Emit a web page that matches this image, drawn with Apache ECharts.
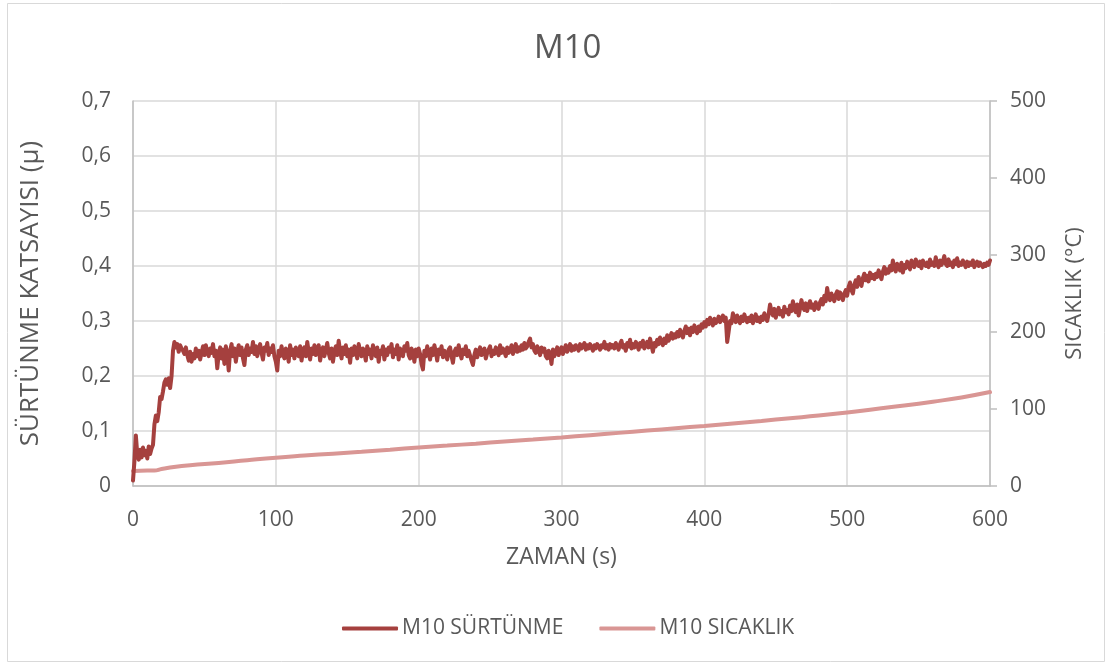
<!DOCTYPE html>
<html>
<head>
<meta charset="utf-8">
<script src="https://cdn.jsdelivr.net/npm/echarts@6/dist/echarts.min.js"></script>
<style>
  html, body { margin: 0; padding: 0; background: #fff; }
  #chart { width: 1113px; height: 666px; }
</style>
</head>
<body>
<div id="chart"></div>
<script>
// Friction coefficient, sampled every 1 s from 0 to 600 s (20 s per row)
const frictionStep = 1;
const frictionValues = [
  0.010, 0.045, 0.092, 0.058, 0.048, 0.066, 0.052, 0.070, 0.056, 0.064, 0.050, 0.072, 0.058, 0.068, 0.075, 0.112, 0.128, 0.118, 0.134, 0.162,
  0.158, 0.172, 0.188, 0.194, 0.184, 0.196, 0.178, 0.200, 0.246, 0.262, 0.252, 0.258, 0.244, 0.256, 0.250, 0.246, 0.240, 0.252, 0.238, 0.228,
  0.244, 0.226, 0.240, 0.232, 0.250, 0.236, 0.246, 0.230, 0.242, 0.254, 0.238, 0.256, 0.244, 0.236, 0.250, 0.242, 0.258, 0.236, 0.246, 0.214,
  0.240, 0.252, 0.232, 0.248, 0.222, 0.254, 0.240, 0.210, 0.246, 0.258, 0.236, 0.250, 0.226, 0.244, 0.256, 0.238, 0.252, 0.232, 0.220, 0.248,
  0.256, 0.238, 0.250, 0.244, 0.262, 0.240, 0.254, 0.236, 0.248, 0.258, 0.242, 0.230, 0.252, 0.246, 0.260, 0.238, 0.250, 0.244, 0.256, 0.236,
  0.226, 0.210, 0.246, 0.236, 0.254, 0.240, 0.232, 0.250, 0.244, 0.226, 0.256, 0.238, 0.248, 0.232, 0.252, 0.242, 0.236, 0.254, 0.228, 0.246,
  0.252, 0.236, 0.262, 0.244, 0.230, 0.250, 0.240, 0.256, 0.238, 0.248, 0.256, 0.228, 0.244, 0.252, 0.236, 0.248, 0.260, 0.242, 0.232, 0.250,
  0.226, 0.244, 0.254, 0.238, 0.264, 0.246, 0.232, 0.252, 0.240, 0.256, 0.236, 0.248, 0.224, 0.250, 0.238, 0.254, 0.244, 0.232, 0.258, 0.246,
  0.236, 0.250, 0.242, 0.228, 0.254, 0.240, 0.248, 0.232, 0.256, 0.244, 0.236, 0.252, 0.226, 0.246, 0.240, 0.254, 0.230, 0.248, 0.238, 0.252,
  0.244, 0.258, 0.234, 0.248, 0.240, 0.256, 0.230, 0.250, 0.242, 0.236, 0.254, 0.246, 0.260, 0.238, 0.232, 0.250, 0.244, 0.226, 0.248, 0.236,
  0.250, 0.240, 0.222, 0.212, 0.246, 0.236, 0.254, 0.242, 0.230, 0.250, 0.238, 0.256, 0.244, 0.228, 0.248, 0.240, 0.254, 0.234, 0.246, 0.238,
  0.230, 0.248, 0.252, 0.236, 0.224, 0.244, 0.250, 0.238, 0.256, 0.242, 0.232, 0.248, 0.240, 0.254, 0.236, 0.246, 0.244, 0.228, 0.220, 0.238,
  0.248, 0.234, 0.244, 0.252, 0.238, 0.246, 0.250, 0.232, 0.242, 0.248, 0.254, 0.236, 0.246, 0.240, 0.252, 0.244, 0.238, 0.256, 0.242, 0.250,
  0.244, 0.236, 0.252, 0.242, 0.246, 0.256, 0.240, 0.250, 0.258, 0.244, 0.252, 0.246, 0.256, 0.248, 0.260, 0.250, 0.254, 0.262, 0.268, 0.252,
  0.258, 0.246, 0.242, 0.254, 0.248, 0.238, 0.252, 0.244, 0.250, 0.236, 0.232, 0.246, 0.240, 0.222, 0.248, 0.236, 0.244, 0.252, 0.238, 0.246,
  0.252, 0.240, 0.248, 0.256, 0.244, 0.250, 0.258, 0.246, 0.254, 0.248, 0.256, 0.252, 0.246, 0.258, 0.250, 0.254, 0.260, 0.248, 0.256, 0.250,
  0.258, 0.252, 0.246, 0.256, 0.250, 0.258, 0.254, 0.248, 0.256, 0.252, 0.262, 0.250, 0.256, 0.248, 0.258, 0.252, 0.256, 0.250, 0.260, 0.254,
  0.248, 0.258, 0.264, 0.252, 0.256, 0.246, 0.260, 0.254, 0.266, 0.250, 0.258, 0.252, 0.262, 0.256, 0.248, 0.260, 0.254, 0.264, 0.250, 0.256,
  0.262, 0.252, 0.268, 0.256, 0.244, 0.260, 0.254, 0.266, 0.258, 0.270, 0.262, 0.256, 0.268, 0.260, 0.274, 0.264, 0.270, 0.278, 0.268, 0.276,
  0.270, 0.280, 0.272, 0.284, 0.276, 0.270, 0.282, 0.290, 0.278, 0.286, 0.274, 0.288, 0.280, 0.292, 0.284, 0.278, 0.290, 0.282, 0.294, 0.288,
  0.298, 0.290, 0.302, 0.294, 0.306, 0.298, 0.292, 0.304, 0.296, 0.300, 0.308, 0.298, 0.304, 0.310, 0.300, 0.306, 0.262, 0.280, 0.300, 0.296,
  0.314, 0.306, 0.298, 0.310, 0.302, 0.296, 0.308, 0.300, 0.312, 0.304, 0.298, 0.306, 0.300, 0.310, 0.296, 0.304, 0.312, 0.300, 0.306, 0.298,
  0.308, 0.302, 0.314, 0.306, 0.300, 0.312, 0.330, 0.318, 0.310, 0.322, 0.306, 0.316, 0.324, 0.312, 0.318, 0.308, 0.326, 0.316, 0.320, 0.312,
  0.328, 0.318, 0.336, 0.324, 0.316, 0.330, 0.310, 0.322, 0.338, 0.326, 0.320, 0.332, 0.318, 0.328, 0.336, 0.324, 0.330, 0.320, 0.334, 0.326,
  0.322, 0.334, 0.340, 0.330, 0.346, 0.336, 0.360, 0.344, 0.338, 0.350, 0.342, 0.336, 0.348, 0.354, 0.340, 0.352, 0.346, 0.338, 0.350, 0.356,
  0.346, 0.362, 0.370, 0.356, 0.350, 0.366, 0.374, 0.362, 0.380, 0.370, 0.364, 0.378, 0.386, 0.374, 0.382, 0.372, 0.388, 0.378, 0.384, 0.376,
  0.386, 0.380, 0.392, 0.384, 0.376, 0.390, 0.398, 0.386, 0.394, 0.388, 0.400, 0.392, 0.410, 0.396, 0.390, 0.404, 0.398, 0.392, 0.406, 0.388,
  0.402, 0.396, 0.408, 0.400, 0.394, 0.410, 0.402, 0.398, 0.412, 0.404, 0.400, 0.408, 0.396, 0.410, 0.404, 0.400, 0.406, 0.398, 0.412, 0.402,
  0.406, 0.400, 0.416, 0.404, 0.398, 0.410, 0.402, 0.408, 0.418, 0.404, 0.400, 0.412, 0.402, 0.406, 0.398, 0.410, 0.404, 0.414, 0.400, 0.406,
  0.402, 0.410, 0.404, 0.398, 0.408, 0.400, 0.406, 0.402, 0.410, 0.398, 0.404, 0.408, 0.400, 0.406, 0.402, 0.398, 0.404, 0.400, 0.406, 0.402,
  0.410
];

// Temperature (°C)
const temperatureTimes = [0, 10, 15, 20, 30, 40, 60, 80, 100, 120, 140, 160, 180, 200, 220, 240, 260, 280, 300,
  320, 340, 360, 380, 400, 420, 440, 460, 480, 500, 520, 540, 560, 580, 600];
const temperatureValues = [19.5, 20, 20, 22, 25, 27, 30, 33.5, 36.8, 39.5, 42, 44.5, 47.2, 50, 52.5, 55, 57.7, 60.3, 63,
  66, 69, 72, 75, 78, 81.3, 84.5, 88, 91.5, 95.5, 100, 104.5, 109.5, 115, 122];

// Axis ticks
const leftTicks = [0, 0.1, 0.2, 0.3, 0.4, 0.5, 0.6, 0.7];
const rightTicks = [0, 100, 200, 300, 400, 500];
const timeTicks = [0, 100, 200, 300, 400, 500, 600];

const frictionData = frictionValues.map((v, i) => [i * frictionStep, v]);
const temperatureData = temperatureTimes.map((t, i) => [t, temperatureValues[i]]);

const FONT = 'Open Sans';
const TXT = '#595959';
const GRIDC = '#d9d9d9';
const AXISC = '#bfbfbf';

const chart = echarts.init(document.getElementById('chart'), null, { renderer: 'canvas' });
chart.setOption({
  animation: false,
  backgroundColor: '#fff',
  textStyle: { fontFamily: FONT, color: TXT },
  title: {
    text: 'M10',
    left: 529,
    top: 27,
    textStyle: { fontFamily: FONT, fontSize: 33, fontWeight: 'normal', color: TXT }
  },
  graphic: [{
    type: 'rect',
    shape: { x: 7.5, y: 3.5, width: 1097, height: 658 },
    style: { fill: 'none', stroke: '#d9d9d9', lineWidth: 1 },
    silent: true
  }],
  legend: {
    bottom: 22,
    left: 337,
    itemGap: 36,
    itemWidth: 56,
    itemHeight: 4,
    icon: 'roundRect',
    textStyle: { fontFamily: FONT, fontSize: 21, color: TXT, padding: [0, 0, 0, -1] },
    data: ['M10 SÜRTÜNME', 'M10 SICAKLIK']
  },
  grid: { left: 133, right: 123, top: 101, bottom: 180, containLabel: false },
  xAxis: {
    type: 'value',
    min: 0, max: 600, interval: 100,
    name: 'ZAMAN (s)',
    nameLocation: 'middle',
    nameGap: 60,
    nameTextStyle: { fontFamily: FONT, fontSize: 23, color: TXT },
    axisLine: { show: true, lineStyle: { color: AXISC, width: 1.5 } },
    axisTick: { show: false },
    axisLabel: { fontFamily: FONT, fontSize: 21, color: TXT, margin: 24,
      customValues: timeTicks },
    splitLine: { show: true, lineStyle: { color: GRIDC, width: 1.5 } }
  },
  yAxis: [{
    type: 'value',
    min: 0, max: 0.7, interval: 0.1,
    name: 'SÜRTÜNME KATSAYISI (µ)',
    nameLocation: 'middle',
    nameGap: 89,
    nameRotate: 90,
    nameTextStyle: { fontFamily: FONT, fontSize: 26, color: TXT },
    axisLine: { show: true, lineStyle: { color: AXISC, width: 1.5 } },
    axisTick: { show: false },
    axisLabel: {
      fontFamily: FONT, fontSize: 21, color: TXT, margin: 22,
      customValues: leftTicks,
      formatter: v => (Math.round(v * 10) / 10).toString().replace('.', ',')
    },
    splitLine: { show: true, lineStyle: { color: GRIDC, width: 1.5 } }
  }, {
    type: 'value',
    min: 0, max: 500, interval: 100,
    name: 'SICAKLIK (°C)',
    nameLocation: 'middle',
    nameGap: 74,
    nameRotate: 90,
    nameTextStyle: { fontFamily: FONT, fontSize: 22, color: TXT },
    position: 'right',
    axisLine: { show: true, lineStyle: { color: AXISC, width: 1.5 } },
    axisTick: { show: true, inside: false, length: 7, lineStyle: { color: AXISC, width: 1.5 } },
    axisLabel: { fontFamily: FONT, fontSize: 21, color: TXT, margin: 20, customValues: rightTicks },
    splitLine: { show: false }
  }],
  series: [{
    name: 'M10 SÜRTÜNME',
    type: 'line',
    yAxisIndex: 0,
    data: frictionData,
    showSymbol: false,
    smooth: false,
    lineStyle: { color: '#a5403e', width: 4, cap: 'round', join: 'round' },
    itemStyle: { color: '#a5403e' },
    z: 3
  }, {
    name: 'M10 SICAKLIK',
    type: 'line',
    yAxisIndex: 1,
    data: temperatureData,
    showSymbol: false,
    smooth: true,
    lineStyle: { color: '#d99694', width: 4, cap: 'round' },
    itemStyle: { color: '#d99694' },
    z: 2
  }]
});
</script>
</body>
</html>
